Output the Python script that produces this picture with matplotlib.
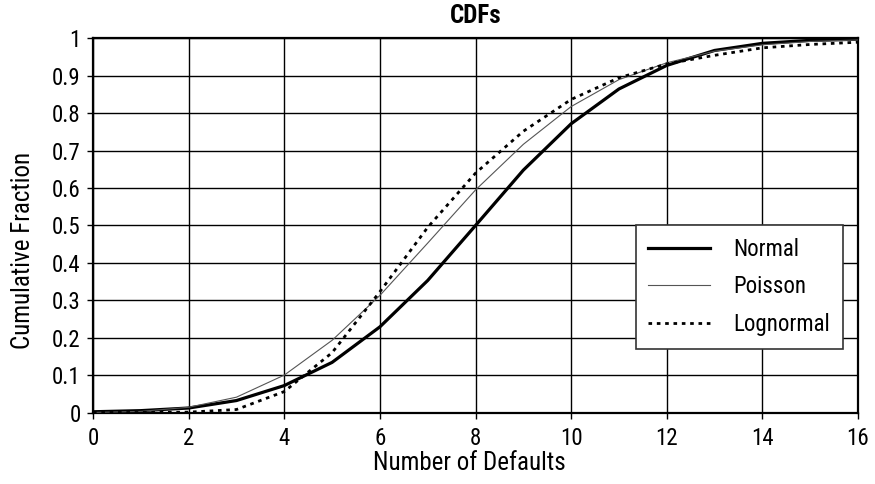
import matplotlib
matplotlib.use("Agg")
import matplotlib.pyplot as plt

plt.rcParams['font.family'] = ['Roboto Condensed', 'Archivo Narrow', 'DejaVu Sans']

# Number of defaults and cumulative fractions for each distribution
defaults = list(range(0, 17))
normal = [0.002, 0.005, 0.012, 0.032, 0.072, 0.134, 0.229, 0.353, 0.500,
          0.648, 0.772, 0.865, 0.928, 0.968, 0.987, 0.995, 0.998]
poisson = [0.0003, 0.003, 0.014, 0.041, 0.100, 0.193, 0.313, 0.453, 0.595,
           0.717, 0.818, 0.890, 0.935, 0.966, 0.983, 0.992, 0.996]
lognormal = [0.0, 0.0, 0.001, 0.008, 0.056, 0.160, 0.323, 0.495, 0.640,
             0.752, 0.837, 0.895, 0.932, 0.955, 0.975, 0.984, 0.990]

x_ticks = [0, 2, 4, 6, 8, 10, 12, 14, 16]
y_ticks = [0, 0.1, 0.2, 0.3, 0.4, 0.5, 0.6, 0.7, 0.8, 0.9, 1]
y_tick_labels = ["0", "0.1", "0.2", "0.3", "0.4", "0.5", "0.6", "0.7", "0.8", "0.9", "1"]

fig = plt.figure(figsize=(8.75, 4.84), dpi=100)
ax = fig.add_axes([0.1063, 0.1477, 0.8743, 0.7728])

ax.plot(defaults, normal, color="black", lw=2.3, label="Normal", zorder=3)
ax.plot(defaults, poisson, color="#555555", lw=0.8, label="Poisson", zorder=3)
ax.plot(defaults, lognormal, color="black", lw=2.0, linestyle=(0, (1.3, 1.7)),
        label="Lognormal", zorder=3)

ax.set_xlim(0, 16)
ax.set_ylim(0, 1)
ax.set_xticks(x_ticks)
ax.set_xticklabels([str(t) for t in x_ticks])
ax.set_yticks(y_ticks)
ax.set_yticklabels(y_tick_labels)

ax.grid(True, color="black", lw=1.0)
ax.set_axisbelow(True)
for side in ax.spines.values():
    side.set_linewidth(1.6)
    side.set_color("black")

ax.tick_params(axis="x", direction="out", length=4.5, width=1, pad=6, labelsize=16.5)
ax.tick_params(axis="y", direction="out", length=4, width=1, pad=5, labelsize=16.5)

ax.set_xlabel("Number of Defaults", fontsize=18, labelpad=1)
ax.set_ylabel("Cumulative Fraction", fontsize=18, labelpad=12)
ax.xaxis.label.set_x(0.4915)
ax.yaxis.label.set_y(0.432)
ax.set_title("CDFs", fontsize=18, fontweight="bold", pad=11)

leg = ax.legend(loc="upper right", bbox_to_anchor=(0.98, 0.502), fontsize=16.5,
                frameon=True, fancybox=False, edgecolor="#333333",
                handlelength=2.7, handletextpad=1.0, borderpad=0.56,
                borderaxespad=0, labelspacing=0.64)
leg.get_frame().set_linewidth(1.2)
leg.get_frame().set_alpha(1)

fig.savefig("out.png", dpi=100)
